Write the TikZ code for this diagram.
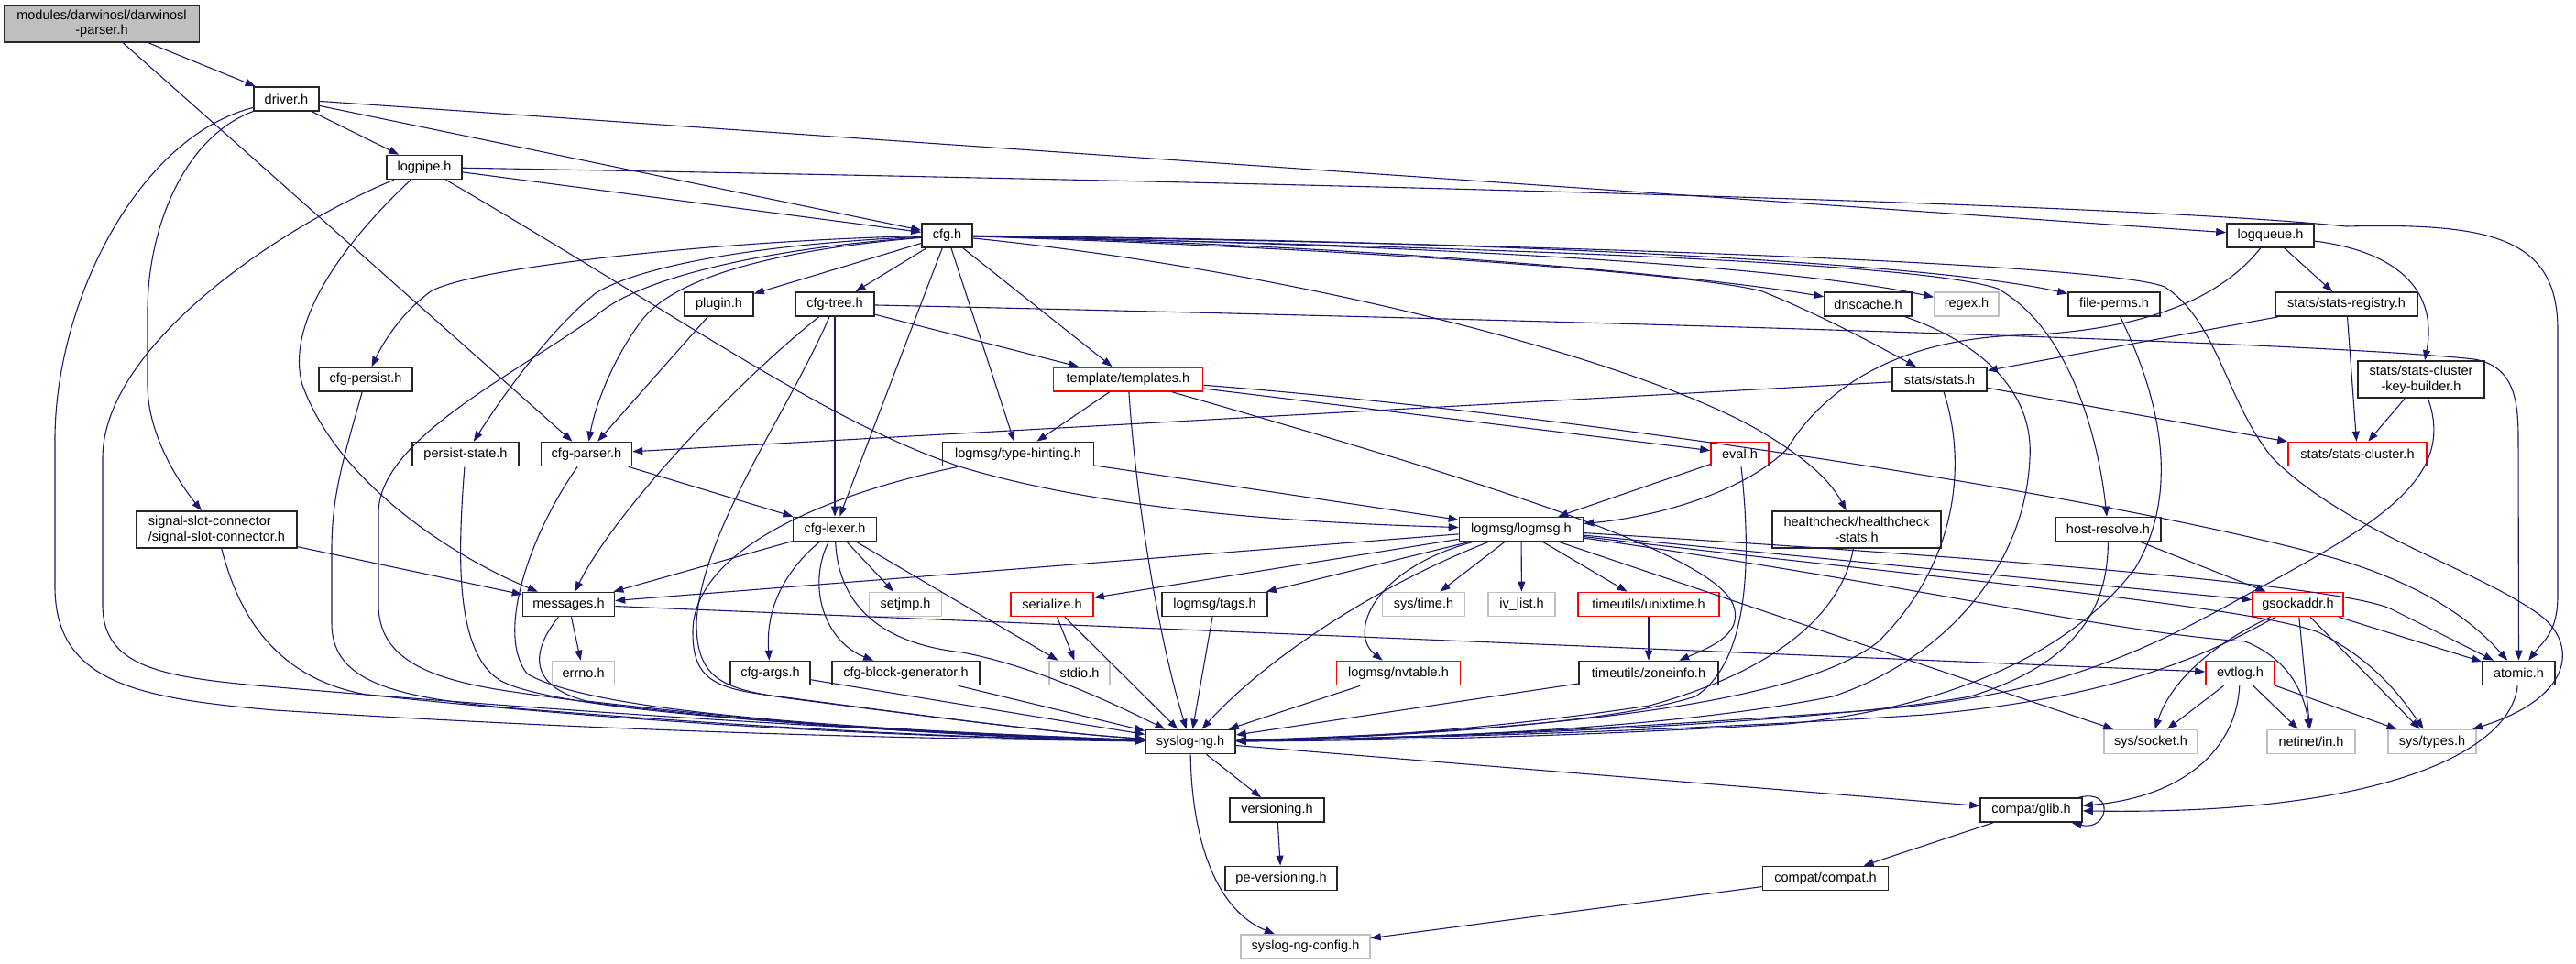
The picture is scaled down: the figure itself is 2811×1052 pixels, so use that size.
\documentclass[tikz,border=0pt]{standalone}
\usepackage{fontspec}
\setmainfont{Liberation Sans}
\usetikzlibrary{arrows.meta}
\definecolor{edgec}{HTML}{191970}
\definecolor{grayfill}{HTML}{BFBFBF}
\definecolor{grayline}{HTML}{BFBFBF}
\begin{document}
\begin{tikzpicture}[x=1pt,y=-1pt,
  nd/.style={draw=black!85,fill=white,line width=1.6pt,minimum height=26pt,inner xsep=0pt,inner ysep=0pt,font=\fontsize{14.5}{16.5}\selectfont},
  gnd/.style={nd,draw=grayline},
  rnd/.style={nd,draw=red},
  e/.style={draw=edgec,line width=1.1pt,-{Triangle[length=11pt,width=8pt]}}]
\useasboundingbox (0,0) rectangle (2811,1052);
% nodes
\node[nd,fill=grayfill,minimum width=213pt,minimum height=40pt,align=center] (parser) at (111,26) {modules/darwinosl/darwinosl\\-parser.h};
\node[nd,minimum width=71pt] (driver) at (312.5,108) {driver.h};
\node[nd,minimum width=82pt] (logpipe) at (463,182.5) {logpipe.h};
\node[nd,minimum width=55pt] (cfg) at (1033.5,257) {cfg.h};
\node[nd,minimum width=95pt] (logqueue) at (2477.5,257) {logqueue.h};
\node[nd,minimum width=75pt] (plugin) at (784.5,332) {plugin.h};
\node[nd,minimum width=86pt] (cfgtree) at (911,332) {cfg-tree.h};
\node[nd,minimum width=95pt] (dnscache) at (2038.5,332) {dnscache.h};
\node[gnd,minimum width=70pt] (regex) at (2146,332) {regex.h};
\node[nd,minimum width=100pt] (fileperms) at (2307,332) {file-perms.h};
\node[nd,minimum width=155pt] (statsreg) at (2560.5,332) {stats/stats-registry.h};
\node[nd,minimum width=102pt] (cfgpersist) at (399,414) {cfg-persist.h};
\node[rnd,minimum width=163pt] (templates) at (1231,414) {template/templates.h};
\node[nd,minimum width=103pt] (stats) at (2116.5,414) {stats/stats.h};
\node[nd,minimum width=138pt,minimum height=40pt,align=center] (sckb) at (2642,414) {stats/stats-cluster\\-key-builder.h};
\node[nd,minimum width=116pt] (persist) at (508,495.5) {persist-state.h};
\node[nd,minimum width=99pt] (cfgparser) at (640,495.5) {cfg-parser.h};
\node[nd,minimum width=165pt] (typehint) at (1111,495.5) {logmsg/type-hinting.h};
\node[rnd,minimum width=63pt] (eval) at (1898.5,495.5) {eval.h};
\node[rnd,minimum width=151pt] (statscluster) at (2572.5,495.5) {stats/stats-cluster.h};
\node[nd,minimum width=175pt,minimum height=40pt,align=left] (signal) at (236.5,578) {signal-slot-connector\\/signal-slot-connector.h};
\node[nd,minimum width=91pt] (cfglexer) at (911,577.5) {cfg-lexer.h};
\node[nd,minimum width=135pt] (logmsg) at (1660,577.5) {logmsg/logmsg.h};
\node[nd,minimum width=184pt,minimum height=40pt,align=center] (health) at (2026,578) {healthcheck/healthcheck\\-stats.h};
\node[nd,minimum width=115pt] (hostres) at (2300.5,577.5) {host-resolve.h};
\node[nd,minimum width=100pt] (messages) at (620.5,659.5) {messages.h};
\node[gnd,minimum width=79pt] (setjmp) at (988,659.5) {setjmp.h};
\node[rnd,minimum width=90pt] (serialize) at (1148,659.5) {serialize.h};
\node[nd,minimum width=115pt] (tags) at (1325.5,659.5) {logmsg/tags.h};
\node[gnd,minimum width=90pt] (systime) at (1553.5,659.5) {sys/time.h};
\node[gnd,minimum width=73pt] (ivlist) at (1660.5,659.5) {iv\_list.h};
\node[rnd,minimum width=154pt] (unixtime) at (1799,659.5) {timeutils/unixtime.h};
\node[rnd,minimum width=99pt] (gsock) at (2507.5,659.5) {gsockaddr.h};
\node[gnd,minimum width=68pt] (errno) at (636.6,734.5) {errno.h};
\node[nd,minimum width=87pt] (cfgargs) at (840.5,734.5) {cfg-args.h};
\node[nd,minimum width=161pt] (cfgblock) at (988.5,734.5) {cfg-block-generator.h};
\node[gnd,minimum width=66pt] (stdio) at (1178,734.5) {stdio.h};
\node[rnd,minimum width=135pt] (nvtable) at (1526,734.5) {logmsg/nvtable.h};
\node[nd,minimum width=152pt] (zoneinfo) at (1799,734.5) {timeutils/zoneinfo.h};
\node[rnd,minimum width=75pt] (evtlog) at (2444.5,734.5) {evtlog.h};
\node[nd,minimum width=79pt] (atomic) at (2748.5,734.5) {atomic.h};
\node[nd,minimum width=98pt] (syslog) at (1299,809.5) {syslog-ng.h};
\node[gnd,minimum width=102pt] (socket) at (2347,809.5) {sys/socket.h};
\node[gnd,minimum width=96pt] (netinet) at (2522,809.5) {netinet/in.h};
\node[gnd,minimum width=96pt] (systypes) at (2654,809.5) {sys/types.h};
\node[nd,minimum width=103pt] (versioning) at (1393.5,884) {versioning.h};
\node[nd,minimum width=111pt] (glib) at (2216.5,884) {compat/glib.h};
\node[nd,minimum width=122pt] (pever) at (1398,958.5) {pe-versioning.h};
\node[nd,minimum width=137pt] (compat) at (1992,958.5) {compat/compat.h};
\node[gnd,minimum width=141pt] (config) at (1424.5,1033) {syslog-ng-config.h};
% parser
\draw[e] (parser) -- (driver);
\draw[e] (parser) -- (cfgparser);
% driver
\draw[e] (driver) -- (logpipe);
\draw[e] (driver) -- (cfg);
\draw[e] (driver) -- (logqueue);
\draw[e] (driver) .. controls (150,150) and (60,330) .. (60,480) -- (60,640) .. controls (60,745) and (150,762) .. (300,775) .. controls (700,800) and (1000,806) .. (syslog);
\draw[e] (driver) .. controls (200,150) and (161,250) .. (161,340) -- (161,420) .. controls (161,470) and (190,520) .. (signal);
% logpipe
\draw[e] (logpipe) -- (cfg);
\draw[e] (logpipe) .. controls (1300,197) and (2300,220) .. (2560,247) .. controls (2720,243) and (2791,260) .. (2791,360) -- (2791,650) .. controls (2791,690) and (2775,700) .. (atomic);
\draw[e] (logpipe) .. controls (300,250) and (112,380) .. (112,500) -- (112,660) .. controls (112,725) and (170,738) .. (280,748) .. controls (650,780) and (1000,800) .. (syslog);
\draw[e] (logpipe) .. controls (380,260) and (310,350) .. (330,420) .. controls (370,530) and (500,610) .. (messages);
\draw[e] (logpipe) .. controls (750,350) and (900,460) .. (1050,510) .. controls (1200,555) and (1400,570) .. (logmsg);
% cfg
\draw[e] (cfg) -- (plugin);
\draw[e] (cfg) -- (cfgtree);
\draw[e] (cfg) .. controls (800,262) and (520,290) .. (470,318) .. controls (440,340) and (420,370) .. (cfgpersist);
\draw[e] (cfg) .. controls (800,268) and (690,295) .. (650,320) .. controls (600,360) and (550,430) .. (persist);
\draw[e] (cfg) .. controls (820,275) and (730,310) .. (700,350) .. controls (670,390) and (650,440) .. (cfgparser);
\draw[e] (cfg) .. controls (850,270) and (700,300) .. (650,345) .. controls (560,410) and (413,480) .. (413,560) -- (413,660) .. controls (413,720) and (470,742) .. (560,755) .. controls (800,790) and (1050,803) .. (syslog);
\draw[e] (cfg) -- (cfglexer);
\draw[e] (cfg) -- (typehint);
\draw[e] (cfg) -- (templates);
\draw[e] (cfg) .. controls (1500,268) and (1850,300) .. (dnscache);
\draw[e] (cfg) .. controls (1600,268) and (1960,292) .. (regex);
\draw[e] (cfg) .. controls (1600,262) and (2100,285) .. (fileperms);
\draw[e] (cfg) .. controls (1500,272) and (1860,300) .. (1923,318) .. controls (1990,345) and (2050,378) .. (stats);
\draw[e] (cfg) .. controls (1450,300) and (1800,400) .. (1920,470) .. controls (1980,505) and (2000,530) .. (health);
\draw[e] (cfg) .. controls (1700,272) and (2100,288) .. (2180,315) .. controls (2260,360) and (2290,480) .. (hostres);
\draw[e] (cfg) .. controls (1700,266) and (2300,288) .. (2362,313) .. controls (2420,350) and (2430,440) .. (2480,500) .. controls (2560,580) and (2700,620) .. (2770,670) .. controls (2812,700) and (2812,760) .. (systypes);
% cfgtree
\draw[e] (cfgtree) -- (cfglexer);
\draw[e] (cfgtree) -- (templates);
\draw[e] (cfgtree) .. controls (800,420) and (670,560) .. (messages);
\draw[e] (cfgtree) .. controls (860,450) and (765,580) .. (760,680) .. controls (760,742) and (790,752) .. (860,762) .. controls (1000,780) and (1150,800) .. (syslog);
\draw[e] (cfgtree) .. controls (1500,345) and (2500,370) .. (2700,392) .. controls (2745,400) and (2748,440) .. (2748,480) -- (atomic);
% plugin, cfgparser, cfgpersist, persist, signal
\draw[e] (plugin) -- (cfgparser);
\draw[e] (cfgparser) -- (cfglexer);
\draw[e] (cfgparser) .. controls (580,580) and (540,690) .. (575,735) .. controls (640,775) and (900,795) .. (syslog);
\draw[e] (cfgpersist) .. controls (375,500) and (362,540) .. (362,600) -- (362,680) .. controls (362,740) and (420,760) .. (550,772) .. controls (900,800) and (1100,806) .. (syslog);
\draw[e] (persist) .. controls (500,600) and (495,710) .. (545,742) .. controls (600,775) and (900,795) .. (syslog);
\draw[e] (signal) -- (messages);
\draw[e] (signal) .. controls (260,670) and (300,740) .. (400,758) .. controls (700,790) and (1000,805) .. (syslog);
% messages
\draw[e] (messages) .. controls (580,710) and (575,748) .. (640,765) .. controls (900,795) and (1100,806) .. (syslog);
\draw[e] (messages) -- (errno);
\draw[e] (messages) -- (evtlog);
% cfglexer
\draw[e] (cfglexer) -- (messages);
\draw[e] (cfglexer) .. controls (860,620) and (835,660) .. (cfgargs);
\draw[e] (cfglexer) .. controls (880,640) and (900,700) .. (cfgblock);
\draw[e] (cfglexer) .. controls (915,660) and (960,702) .. (1050,712) .. controls (1120,725) and (1200,760) .. (syslog);
\draw[e] (cfglexer) -- (setjmp);
\draw[e] (cfglexer) -- (stdio);
\draw[e] (cfgargs) -- (syslog);
\draw[e] (cfgblock) -- (syslog);
% templates
\draw[e] (templates) -- (typehint);
\draw[e] (templates) -- (eval);
\draw[e] (templates) .. controls (1240,550) and (1265,700) .. (syslog);
\draw[e] (templates) .. controls (1600,520) and (1860,600) .. (1890,657) .. controls (1905,690) and (1870,705) .. (zoneinfo);
\draw[e] (templates) .. controls (1700,450) and (2300,540) .. (2550,610) .. controls (2650,640) and (2700,680) .. (atomic);
% typehint, eval
\draw[e] (typehint) -- (logmsg);
\draw[e] (typehint) .. controls (900,540) and (756,600) .. (756,690) .. controls (756,742) and (780,752) .. (850,760) .. controls (1000,780) and (1150,800) .. (syslog);
\draw[e] (eval) -- (logmsg);
\draw[e] (eval) .. controls (1910,600) and (1912,720) .. (1850,760) .. controls (1750,792) and (1500,805) .. (syslog);
% stats family
\draw[e] (stats) -- (cfgparser);
\draw[e] (stats) -- (statscluster);
\draw[e] (stats) .. controls (2145,500) and (2140,610) .. (2050,700) .. controls (1950,780) and (1600,800) .. (syslog);
\draw[e] (statsreg) -- (stats);
\draw[e] (statsreg) -- (statscluster);
\draw[e] (sckb) -- (statscluster);
\draw[e] (sckb) .. controls (2680,520) and (2600,570) .. (2450,650) .. controls (2300,735) and (2200,765) .. (2000,778) .. controls (1700,800) and (1500,806) .. (syslog);
% logqueue
\draw[e] (logqueue) -- (statsreg);
\draw[e] (logqueue) .. controls (2620,275) and (2660,320) .. (sckb);
\draw[e] (logqueue) .. controls (2420,330) and (2330,362) .. (2200,366) .. controls (2050,372) and (1980,440) .. (1950,490) .. controls (1900,540) and (1800,565) .. (logmsg);
% misc to syslog
\draw[e] (dnscache) .. controls (2150,370) and (2220,420) .. (2215,500) .. controls (2210,620) and (2120,720) .. (2000,760) .. controls (1800,800) and (1500,806) .. (syslog);
\draw[e] (fileperms) .. controls (2340,400) and (2390,520) .. (2330,620) .. controls (2270,700) and (2150,770) .. (1950,790) .. controls (1700,805) and (1500,808) .. (syslog);
\draw[e] (hostres) -- (gsock);
\draw[e] (hostres) .. controls (2300,650) and (2280,720) .. (2150,760) .. controls (1950,795) and (1500,806) .. (syslog);
\draw[e] (health) .. controls (2015,640) and (1980,720) .. (1800,770) .. controls (1600,800) and (1450,806) .. (syslog);
% logmsg
\draw[e] (logmsg) -- (messages);
\draw[e] (logmsg) -- (tags);
\draw[e] (logmsg) -- (serialize);
\draw[e] (logmsg) .. controls (1500,640) and (1380,720) .. (syslog);
\draw[e] (logmsg) .. controls (1500,620) and (1470,690) .. (nvtable);
\draw[e] (logmsg) -- (systime);
\draw[e] (logmsg) -- (ivlist);
\draw[e] (logmsg) -- (unixtime);
\draw[e] (logmsg) -- (gsock);
\draw[e] (logmsg) .. controls (2200,610) and (2560,640) .. (2610,665) .. controls (2660,690) and (2690,705) .. (atomic);
\draw[e] (logmsg) .. controls (2100,640) and (2300,690) .. (2450,700) .. controls (2500,720) and (2515,760) .. (netinet);
\draw[e] (logmsg) .. controls (2100,630) and (2450,660) .. (2530,690) .. controls (2590,720) and (2620,760) .. (systypes);
\draw[e] (logmsg) -- (socket);
% small ones
\draw[e] (serialize) -- (stdio);
\draw[e] (serialize) -- (syslog);
\draw[e] (tags) -- (syslog);
\draw[e] (unixtime) -- (zoneinfo);
\draw[e] (zoneinfo) -- (syslog);
\draw[e] (nvtable) -- (syslog);
% gsock
\draw[e] (gsock) .. controls (2400,720) and (2300,762) .. (2100,780) .. controls (1800,800) and (1500,806) .. (syslog);
\draw[e] (gsock) .. controls (2420,700) and (2370,740) .. (socket);
\draw[e] (gsock) -- (netinet);
\draw[e] (gsock) -- (systypes);
\draw[e] (gsock) -- (atomic);
% evtlog
\draw[e] (evtlog) -- (socket);
\draw[e] (evtlog) -- (netinet);
\draw[e] (evtlog) -- (systypes);
\draw[e] (evtlog) .. controls (2440,820) and (2380,870) .. (glib);
% atomic, glib, compat
\draw[e] (atomic) .. controls (2740,820) and (2600,890) .. (glib);
\draw[e] ([xshift=-4pt]glib.north east) .. controls +(40,-10) and +(40,10) .. ([xshift=-12pt]glib.south east);
\draw[e] (glib) -- (compat);
\draw[e] (compat) -- (config);
% syslog
\draw[e] (syslog) -- (versioning);
\draw[e] (syslog) .. controls (1300,900) and (1320,990) .. (config);
\draw[e] (syslog) -- (glib);
\draw[e] (versioning) -- (pever);
\end{tikzpicture}
\end{document}
